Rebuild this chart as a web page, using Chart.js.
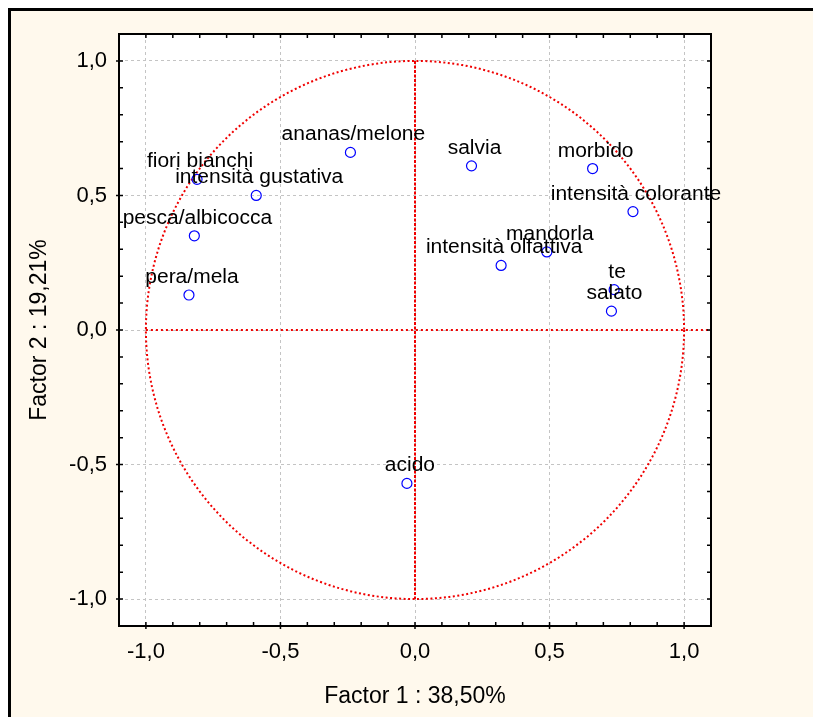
<!DOCTYPE html>
<html>
<head>
<meta charset="utf-8">
<script src="https://cdn.jsdelivr.net/npm/chart.js@4"></script>
<style>
  body{margin:0;background:#fff;}
  canvas{display:block;}
</style>
</head>
<body>
<canvas id="chart" width="813" height="717"></canvas>
<script>
/* DATA */
const variables = ["ananas/melone","salvia","morbido","intensità colorante","mandorla","intensità olfattiva","te","salato","fiori bianchi","intensità gustativa","pesca/albicocca","pera/mela","acido"];
const factor1 = [-0.24, 0.21, 0.66, 0.81, 0.49, 0.32, 0.74, 0.73, -0.81, -0.59, -0.82, -0.84, -0.03];
const factor2 = [0.66, 0.61, 0.60, 0.44, 0.29, 0.24, 0.15, 0.07, 0.56, 0.50, 0.35, 0.13, -0.57];

const majorTicks = [-1, -0.5, 0, 0.5, 1];
const tickLabels = ["-1,0", "-0,5", "0,0", "0,5", "1,0"];

const xTitle = "Factor 1 : 38,50%";
const yTitle = "Factor 2 : 19,21%";

const FONT = "'Liberation Sans', Arial, sans-serif";

function majorIndex(v){
  return majorTicks.findIndex(t => Math.abs(t - v) < 1e-6);
}

/* PLUGIN: background, frame, circle, labels */
const decor = {
  id: "decor",
  beforeDraw(chart){
    const {ctx, chartArea:a, width, height} = chart;
    ctx.save();
    ctx.fillStyle = "#ffffff";
    ctx.fillRect(0, 0, width, height);
    ctx.fillStyle = "#fff9ed";
    ctx.fillRect(8, 8, width, height);
    ctx.fillStyle = "#000";
    ctx.fillRect(8, 8, width, 3);
    ctx.fillRect(8, 8, 3, height);
    ctx.fillStyle = "#ffffff";
    ctx.fillRect(a.left, a.top, a.right - a.left, a.bottom - a.top);
    ctx.restore();
  },
  beforeDatasetsDraw(chart){
    const {ctx, scales:{x, y}} = chart;
    const cx = x.getPixelForValue(0), cy = y.getPixelForValue(0);
    const r = x.getPixelForValue(1) - cx;
    ctx.save();
    ctx.strokeStyle = "#f00000";
    // unit circle
    ctx.lineWidth = 2;
    ctx.setLineDash([2, 2.5]);
    ctx.beginPath();
    ctx.arc(cx, cy, r, 0, Math.PI * 2);
    ctx.stroke();
    // horizontal line
    ctx.setLineDash([2, 3]);
    ctx.beginPath();
    ctx.moveTo(x.getPixelForValue(-1), cy);
    ctx.lineTo(x.getPixelForValue(x.max), cy);
    ctx.stroke();
    // vertical line
    ctx.setLineDash([3, 1.5]);
    ctx.beginPath();
    ctx.moveTo(cx, y.getPixelForValue(1));
    ctx.lineTo(cx, y.getPixelForValue(-1));
    ctx.stroke();
    ctx.restore();
  },
  afterDatasetsDraw(chart){
    const {ctx, chartArea:a, scales:{x, y}} = chart;
    ctx.save();
    // plot frame
    ctx.strokeStyle = "#000";
    ctx.lineWidth = 2;
    ctx.strokeRect(a.left, a.top, a.right - a.left, a.bottom - a.top);
    // inner tick marks
    ctx.lineWidth = 1.5;
    ctx.beginPath();
    x.ticks.forEach(t => {
      const px = x.getPixelForValue(t.value);
      if (px < a.left + 2 || px > a.right - 2) return;
      const out = majorIndex(t.value) >= 0 ? 3 : 0;
      ctx.moveTo(px, a.bottom + out); ctx.lineTo(px, a.bottom - 4);
      ctx.moveTo(px, a.top); ctx.lineTo(px, a.top + 4);
    });
    y.ticks.forEach(t => {
      const py = y.getPixelForValue(t.value);
      if (py < a.top + 2 || py > a.bottom - 2) return;
      const out = majorIndex(t.value) >= 0 ? 3 : 0;
      ctx.moveTo(a.left - out, py); ctx.lineTo(a.left + 4, py);
      ctx.moveTo(a.right, py); ctx.lineTo(a.right - 4, py);
    });
    ctx.stroke();
    // point labels
    ctx.fillStyle = "#000";
    ctx.font = "20px " + FONT;
    ctx.textAlign = "center";
    ctx.textBaseline = "alphabetic";
    variables.forEach((name, i) => {
      const px = x.getPixelForValue(factor1[i]);
      const py = y.getPixelForValue(factor2[i]);
      ctx.save();
      ctx.translate(px + 3, py - 12);
      ctx.scale(1.05, 1);
      ctx.fillText(name, 0, 0);
      ctx.restore();
    });
    ctx.restore();
  }
};

/* CHART */
const points = factor1.map((v, i) => ({x: v, y: factor2[i]}));

function axis(titleText, isX){
  return {
    type: "linear",
    min: -1.1,
    max: 1.1,
    afterFit(s){ if (isX) s.height = 91; else s.width = 119; },
    ticks: {
      stepSize: 0.1,
      autoSkip: false,
      maxRotation: 0,
      padding: isX ? 13 : 12,
      color: "#000",
      font: {family: FONT, size: 22},
      callback(v){ const k = majorIndex(v); return k >= 0 ? tickLabels[k] : ""; }
    },
    grid: {
      drawTicks: false,
      lineWidth: 1,
      color: c => (c.tick && majorIndex(c.tick.value) >= 0) ? "#c4c4c4" : "rgba(0,0,0,0)"
    },
    border: {display: false, dash: [3, 3]},
    title: {
      display: true,
      text: titleText,
      color: "#000",
      font: {family: FONT, size: 23},
      padding: isX ? {top: 0, bottom: 7} : {top: 26, bottom: 0}
    }
  };
}

new Chart(document.getElementById("chart"), {
  type: "scatter",
  data: {
    datasets: [{
      data: points,
      pointRadius: 5,
      pointHoverRadius: 5,
      pointBorderWidth: 1.2,
      borderColor: "#0000ff",
      backgroundColor: "rgba(0,0,0,0)"
    }]
  },
  options: {
    responsive: false,
    animation: false,
    layout: {padding: {left: 0, right: 102, top: 34, bottom: 0}},
    plugins: {legend: {display: false}, tooltip: {enabled: false}},
    scales: {
      x: axis(xTitle, true),
      y: axis(yTitle, false)
    }
  },
  plugins: [decor]
});
</script>
</body>
</html>
